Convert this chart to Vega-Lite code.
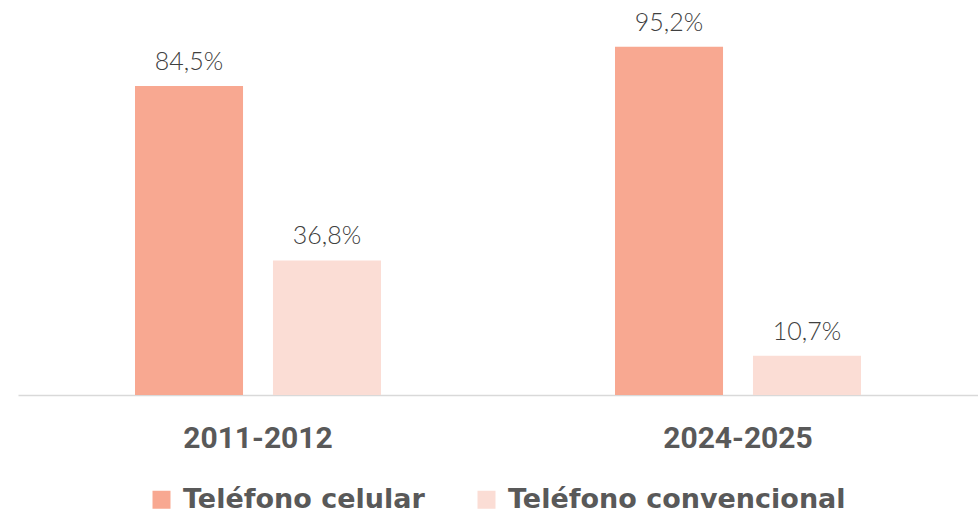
{
  "$schema": "https://vega.github.io/schema/vega-lite/v6.json",
  "width": 960,
  "height": 395,
  "autosize": {"type": "none"},
  "padding": {"left": 18, "top": 0, "right": 0, "bottom": 120},
  "background": "white",
  "data": {
    "values": [
      {"periodo": "2011-2012", "tipo": "Teléfono celular", "valor": 84.5, "etiqueta": "84,5%"},
      {"periodo": "2011-2012", "tipo": "Teléfono convencional", "valor": 36.8, "etiqueta": "36,8%"},
      {"periodo": "2024-2025", "tipo": "Teléfono celular", "valor": 95.2, "etiqueta": "95,2%"},
      {"periodo": "2024-2025", "tipo": "Teléfono convencional", "valor": 10.7, "etiqueta": "10,7%"}
    ]
  },
  "encoding": {
    "x": {
      "field": "periodo",
      "type": "nominal",
      "scale": {"paddingInner": 0, "paddingOuter": 0},
      "axis": {
        "title": null,
        "labelAngle": 0,
        "ticks": false,
        "tickSize": 0,
        "domainColor": "#d9d9d9",
        "domainWidth": 1.5,
        "labelFont": "Roboto",
        "labelFontWeight": "bold",
        "labelFontSize": 30,
        "labelColor": "#595959",
        "labelBaseline": "alphabetic",
        "labelPadding": 52
      }
    },
    "xOffset": {
      "field": "tipo",
      "type": "nominal",
      "scale": {"paddingInner": 0.217, "paddingOuter": 0.848}
    },
    "y": {
      "field": "valor",
      "type": "quantitative",
      "scale": {"domain": [0, 108]},
      "axis": null
    }
  },
  "layer": [
    {
      "mark": {"type": "bar"},
      "encoding": {
        "color": {
          "field": "tipo",
          "type": "nominal",
          "scale": {
            "domain": ["Teléfono celular", "Teléfono convencional"],
            "range": ["#f8a891", "#fbddd5"]
          },
          "legend": {
            "title": null,
            "orient": "none",
            "legendX": 130,
            "legendY": 486,
            "direction": "horizontal",
            "symbolType": "square",
            "symbolSize": 324,
            "symbolStrokeWidth": 0,
            "labelFont": "DejaVu Sans",
            "labelFontWeight": "bold",
            "labelFontSize": 27,
            "labelColor": "#595959",
            "labelOffset": 8,
            "columnPadding": 48,
            "labelLimit": 400
          }
        }
      }
    },
    {
      "mark": {
        "type": "text",
        "baseline": "alphabetic",
        "dy": -16,
        "font": "Lato",
        "fontWeight": 300,
        "fontSize": 25,
        "color": "#404040"
      },
      "encoding": {
        "text": {"field": "etiqueta"}
      }
    }
  ],
  "config": {
    "view": {"stroke": null}
  }
}
